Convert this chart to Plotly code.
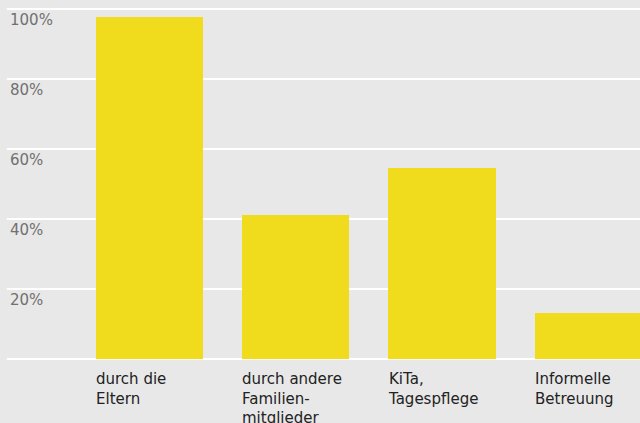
import plotly.graph_objects as go

categories = ["durch die<br>Eltern", "durch andere<br>Familien-<br>mitglieder", "KiTa,<br>Tagespflege", "Informelle<br>Betreuung"]
values = [97.7, 41.2, 54.6, 13.1]
tick_values = [20, 40, 60, 80, 100]
tick_labels = ["20%", "40%", "60%", "80%", "100%"]

BAR_W = 0.733
FONT = "DejaVu Sans"
BG = "#e8e8e8"
positions = list(range(len(categories)))

fig = go.Figure()
fig.add_trace(go.Bar(
    x=positions, y=values, width=BAR_W,
    marker=dict(color="#f0db1c", line=dict(width=0)),
    hoverinfo="skip",
))

annotations = []
for i, cat in enumerate(categories):
    annotations.append(dict(
        x=i - BAR_W / 2, xref="x", y=0, yref="y",
        xanchor="left", yanchor="top", align="left",
        text=cat, showarrow=False, yshift=-9, xshift=-2,
        font=dict(family=FONT, size=15, color="#222222"),
    ))

fig.update_layout(
    width=640, height=423,
    margin=dict(l=7, r=0, t=8, b=64),
    paper_bgcolor=BG, plot_bgcolor=BG,
    showlegend=False,
    bargap=0,
    annotations=annotations,
    xaxis=dict(range=[-0.979, 3.356], showgrid=False, zeroline=False,
               showticklabels=False, ticks="", fixedrange=True),
    yaxis=dict(range=[0, 100.29], tickvals=tick_values, ticktext=tick_labels,
               showgrid=True, gridcolor="#ffffff", gridwidth=2,
               zeroline=True, zerolinecolor="#ffffff", zerolinewidth=2,
               ticklabelposition="inside bottom", ticks="",
               ticklabelstandoff=0, fixedrange=True,
               tickfont=dict(family=FONT, size=15, color="#707070")),
)

fig.write_html(
    "out.html",
    config={"displayModeBar": False, "staticPlot": True},
    post_script="document.body.style.margin='0';document.body.style.background='%s';" % BG,
)
